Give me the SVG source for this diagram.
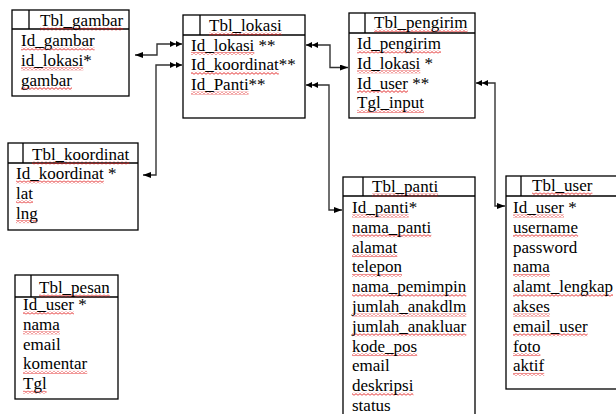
<svg xmlns="http://www.w3.org/2000/svg" width="616" height="414" viewBox="0 0 616 414">
<style>
.box{fill:#fff;stroke:#000;stroke-width:1.3}
.ln{stroke:#000;stroke-width:1.3;fill:none}
text{font-family:"Liberation Serif","Times New Roman",serif;font-size:17px;fill:#000}
.conn{fill:none;stroke:#333;stroke-width:1.4}
.sq{fill:url(#wave)}
</style>
<defs>
<pattern id="wave" patternUnits="userSpaceOnUse" width="4" height="3">
<path d="M0 0.6 L2 2.4 L4 0.6" fill="none" stroke="#e01818" stroke-width="0.9"/>
</pattern>
<marker id="a1" viewBox="0 0 8 6" refX="8" refY="3" markerWidth="8" markerHeight="6" markerUnits="userSpaceOnUse" orient="auto-start-reverse">
<path d="M0 0 L8 3 L0 6 Z" fill="#000"/>
</marker>
<marker id="a2" viewBox="0 0 12 6" refX="12" refY="3" markerWidth="12" markerHeight="6" markerUnits="userSpaceOnUse" orient="auto-start-reverse">
<path d="M0 0 L6 3 L0 6 Z M6 0 L12 3 L6 6 Z" fill="#000"/>
</marker>
</defs>
<rect width="616" height="414" fill="#fff"/>

<g id="connectors">
<path class="conn" d="M135 55 H157 V44 H182" marker-start="url(#a1)" marker-end="url(#a2)"/>
<path class="conn" d="M182 65 H156 V175 H143" marker-start="url(#a2)" marker-end="url(#a1)"/>
<path class="conn" d="M306 45 H330 V67.5 H348" marker-start="url(#a2)" marker-end="url(#a1)"/>
<path class="conn" d="M306 85 H329 V210 H342" marker-start="url(#a2)" marker-end="url(#a1)"/>
<path class="conn" d="M476 83 H495 V206 H505" marker-start="url(#a2)" marker-end="url(#a1)"/>
</g>

<g id="Tbl_gambar">
<rect class="box" x="12" y="10" width="117" height="86"/>
<path class="ln" d="M12 29 H129 M29 10 V29"/>
<rect class="sq" x="40" y="27.5" width="83" height="3"/>
<rect class="sq" x="21" y="47.5" width="73.6" height="3"/>
<rect class="sq" x="21" y="67.3" width="62.3" height="3"/>
<rect class="sq" x="21" y="87.1" width="51" height="3"/>
<text x="40" y="26">Tbl_gambar</text>
<text x="21" y="46">Id_gambar</text>
<text x="21" y="65.8">id_lokasi*</text>
<text x="21" y="85.6">gambar</text>
</g>

<g id="Tbl_lokasi">
<rect class="box" x="183" y="15" width="122" height="103"/>
<path class="ln" d="M183 35 H305 M200 15 V35"/>
<rect class="sq" x="209" y="32.5" width="72.7" height="3"/>
<rect class="sq" x="191" y="52" width="63.3" height="3"/>
<rect class="sq" x="191" y="71.8" width="87.8" height="3"/>
<rect class="sq" x="191" y="91.6" width="57.6" height="3"/>
<text x="209" y="31">Tbl_lokasi</text>
<text x="191" y="50.5">Id_lokasi **</text>
<text x="191" y="70.3">Id_koordinat**</text>
<text x="191" y="90.1">Id_Panti**</text>
</g>

<g id="Tbl_pengirim">
<rect class="box" x="349" y="13" width="126" height="105"/>
<path class="ln" d="M349 33 H475 M365 13 V33"/>
<rect class="sq" x="374" y="29.5" width="93.5" height="3"/>
<rect class="sq" x="357" y="50.5" width="84" height="3"/>
<rect class="sq" x="357" y="70.3" width="63.3" height="3"/>
<rect class="sq" x="357" y="90.1" width="51" height="3"/>
<rect class="sq" x="357" y="109.9" width="67" height="3"/>
<text x="374" y="28">Tbl_pengirim</text>
<text x="357" y="49">Id_pengirim</text>
<text x="357" y="68.8">Id_lokasi *</text>
<text x="357" y="88.6">Id_user **</text>
<text x="357" y="108.4">Tgl_input</text>
</g>

<g id="Tbl_koordinat">
<rect class="box" x="8" y="143" width="130" height="87"/>
<path class="ln" d="M8 163 H138 M23 143 V163"/>
<rect class="sq" x="32" y="161.5" width="97.3" height="3"/>
<rect class="sq" x="16" y="180.5" width="87.8" height="3"/>
<rect class="sq" x="16" y="200.3" width="17" height="3"/>
<rect class="sq" x="16" y="220.1" width="21.7" height="3"/>
<text x="32" y="160">Tbl_koordinat</text>
<text x="16" y="179">Id_koordinat *</text>
<text x="16" y="198.8">lat</text>
<text x="16" y="218.6">lng</text>
</g>

<g id="Tbl_panti">
<rect class="box" x="343" y="177" width="132" height="250"/>
<path class="ln" d="M343 196 H475 M363 177 V196"/>
<rect class="sq" x="372" y="193.5" width="66.1" height="3"/>
<rect class="sq" x="352" y="214.5" width="56.7" height="3"/>
<rect class="sq" x="352" y="234.3" width="79.3" height="3"/>
<rect class="sq" x="352" y="254.1" width="45.3" height="3"/>
<rect class="sq" x="352" y="273.9" width="50" height="3"/>
<rect class="sq" x="352" y="293.7" width="114.3" height="3"/>
<rect class="sq" x="352" y="313.5" width="114.3" height="3"/>
<rect class="sq" x="352" y="333.3" width="114.3" height="3"/>
<rect class="sq" x="352" y="353.1" width="65.2" height="3"/>
<rect class="sq" x="352" y="392.7" width="61.4" height="3"/>
<text x="372" y="192">Tbl_panti</text>
<text x="352" y="213">Id_panti*</text>
<text x="352" y="232.8">nama_panti</text>
<text x="352" y="252.6">alamat</text>
<text x="352" y="272.4">telepon</text>
<text x="352" y="292.2">nama_pemimpin</text>
<text x="352" y="312">jumlah_anakdlm</text>
<text x="352" y="331.8">jumlah_anakluar</text>
<text x="352" y="351.6">kode_pos</text>
<text x="352" y="371.4">email</text>
<text x="352" y="391.2">deskripsi</text>
<text x="352" y="411">status</text>
</g>

<g id="Tbl_user">
<rect class="box" x="506" y="176" width="120" height="213"/>
<path class="ln" d="M506 196 H626 M521 176 V196"/>
<rect class="sq" x="532" y="192.5" width="60.4" height="3"/>
<rect class="sq" x="513" y="214.5" width="51" height="3"/>
<rect class="sq" x="513" y="234.3" width="65.1" height="3"/>
<rect class="sq" x="513" y="273.9" width="36.8" height="3"/>
<rect class="sq" x="513" y="293.7" width="100" height="3"/>
<rect class="sq" x="513" y="313.5" width="36.8" height="3"/>
<rect class="sq" x="513" y="333.3" width="74.6" height="3"/>
<rect class="sq" x="513" y="353.1" width="27.4" height="3"/>
<rect class="sq" x="513" y="372.9" width="31.2" height="3"/>
<text x="532" y="191">Tbl_user</text>
<text x="513" y="213">Id_user *</text>
<text x="513" y="232.8">username</text>
<text x="513" y="252.6">password</text>
<text x="513" y="272.4">nama</text>
<text x="513" y="292.2">alamt_lengkap</text>
<text x="513" y="312">akses</text>
<text x="513" y="331.8">email_user</text>
<text x="513" y="351.6">foto</text>
<text x="513" y="371.4">aktif</text>
</g>

<g id="Tbl_pesan">
<rect class="box" x="15" y="275" width="103" height="124"/>
<path class="ln" d="M15 297 H118 M31 275 V297"/>
<rect class="sq" x="39" y="294.5" width="70.8" height="3"/>
<rect class="sq" x="23" y="311.5" width="51" height="3"/>
<rect class="sq" x="23" y="331.3" width="36.8" height="3"/>
<rect class="sq" x="23" y="370.9" width="64.2" height="3"/>
<rect class="sq" x="23" y="390.7" width="23.6" height="3"/>
<text x="39" y="293">Tbl_pesan</text>
<text x="23" y="310">Id_user *</text>
<text x="23" y="329.8">nama</text>
<text x="23" y="349.6">email</text>
<text x="23" y="369.4">komentar</text>
<text x="23" y="389.2">Tgl</text>
</g>
</svg>
